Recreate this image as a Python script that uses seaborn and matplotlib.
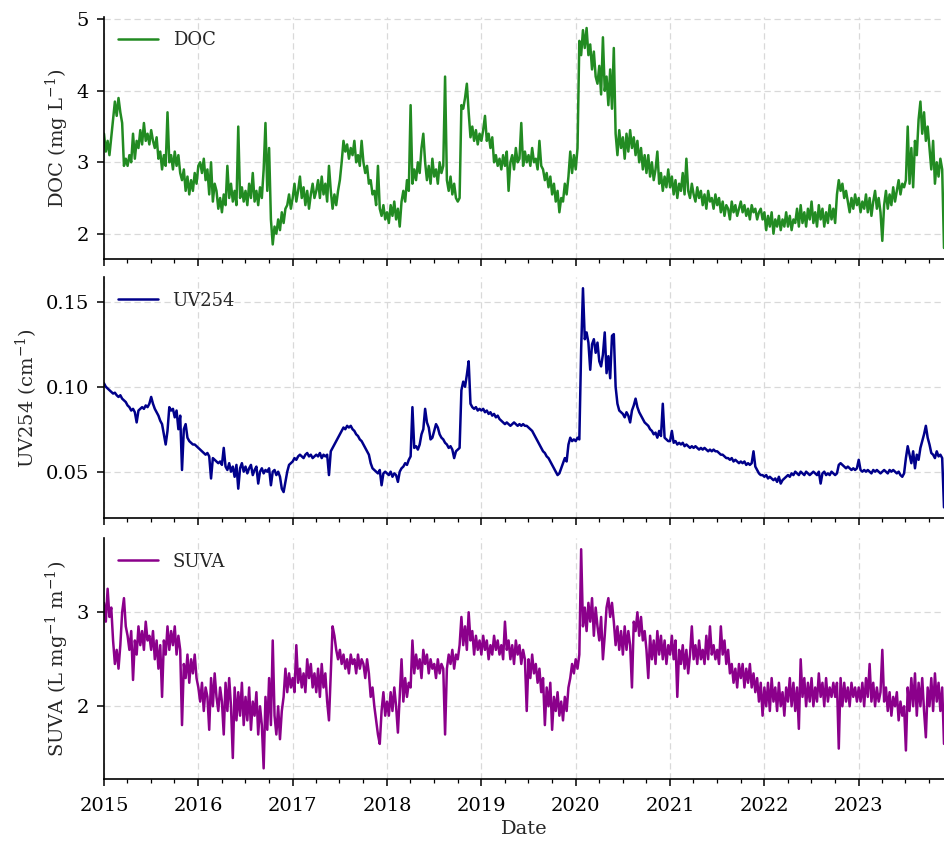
import matplotlib
matplotlib.use("Agg")
import matplotlib.pyplot as plt
import matplotlib.dates as mdates
from matplotlib.ticker import MultipleLocator
import pandas as pd
import seaborn as sns

# Weekly water-quality record, Jan 2015 - Nov 2023 (one row = one quarter)
doc = [
    3.4, 3.15, 3.3, 3.1, 3.35, 3.6, 3.85, 3.65, 3.9, 3.7, 3.55, 2.95, 3.05,
    2.95, 3.1, 3.0, 3.4, 3.05, 3.3, 3.2, 3.45, 3.25, 3.55, 3.3, 3.4, 3.25,
    3.45, 3.3, 3.2, 3.35, 3.05, 3.15, 2.9, 3.1, 2.95, 3.7, 3.0, 3.1, 2.9,
    3.15, 2.95, 3.1, 2.85, 2.75, 2.9, 2.6, 2.8, 2.55, 2.75, 2.6, 2.85, 2.7,
    2.95, 3.0, 2.85, 3.05, 2.75, 2.9, 2.55, 3.0, 2.45, 2.7, 2.6, 2.35, 2.5,
    2.3, 2.55, 2.4, 2.95, 2.5, 2.7, 2.45, 2.6, 2.4, 3.5, 2.5, 2.65, 2.45,
    2.6, 2.4, 2.7, 2.5, 2.85, 2.45, 2.6, 2.4, 2.65, 2.5, 2.9, 3.55, 2.6,
    3.2, 2.2, 1.85, 2.1, 2.0, 2.2, 2.05, 2.3, 2.15, 2.35, 2.4, 2.55, 2.35,
    2.5, 2.7, 2.45, 2.6, 2.8, 2.5, 2.65, 2.4, 2.6, 2.35, 2.55, 2.7, 2.5,
    2.6, 2.75, 2.5, 2.8, 2.55, 2.7, 2.45, 2.95, 2.6, 2.35, 2.55, 2.4, 2.6,
    2.75, 3.0, 3.3, 3.15, 3.25, 3.05, 3.2, 3.1, 3.3, 3.0, 3.1, 2.95, 3.3,
    3.0, 2.85, 2.95, 2.7, 2.75, 2.55, 2.6, 2.4, 2.95, 2.35, 2.25, 2.4, 2.2,
    2.3, 2.15, 2.4, 2.25, 2.45, 2.2, 2.35, 2.1, 2.45, 2.6, 2.45, 2.75, 2.6,
    3.8, 2.7, 2.9, 2.75, 3.0, 2.85, 3.2, 3.4, 3.0, 2.75, 2.95, 2.7, 3.05,
    2.8, 2.9, 2.7, 3.0, 2.85, 2.95, 4.2, 2.75, 2.6, 2.8, 2.55, 2.7, 2.5,
    2.45, 2.5, 3.8, 3.75, 3.9, 4.1, 3.7, 3.35, 3.5, 3.3, 3.45, 3.25, 3.4,
    3.3, 3.45, 3.65, 3.3, 3.4, 3.2, 3.35, 3.0, 3.1, 2.95, 3.05, 2.9, 3.1,
    2.95, 3.15, 2.6, 3.0, 3.1, 2.9, 3.2, 3.0, 3.05, 3.55, 2.95, 3.15, 3.0,
    3.1, 2.95, 3.2, 3.0, 3.05, 2.9, 3.3, 2.95, 2.9, 2.75, 2.85, 2.65, 2.8,
    2.55, 2.7, 2.45, 2.6, 2.3, 2.5, 2.45, 2.7, 2.55, 2.8, 3.15, 2.85, 3.1,
    2.9, 3.2, 4.7, 4.5, 4.85, 4.6, 4.88, 4.5, 4.65, 4.3, 4.55, 4.2, 4.1,
    4.35, 3.95, 4.75, 4.0, 4.2, 3.8, 4.3, 3.75, 4.6, 3.4, 3.1, 3.45, 3.2,
    3.35, 3.05, 3.4, 3.15, 3.45, 3.2, 3.35, 3.1, 3.3, 3.0, 3.2, 2.9, 3.1,
    2.85, 3.1, 2.8, 3.0, 2.75, 2.9, 3.15, 2.7, 2.85, 2.6, 2.8, 2.65, 2.9,
    2.65, 2.8, 2.55, 2.75, 2.5, 2.7, 2.6, 2.85, 2.55, 3.05, 2.6, 2.5, 2.7,
    2.55, 2.45, 2.65, 2.5, 2.6, 2.4, 2.55, 2.35, 2.6, 2.45, 2.5, 2.35, 2.55,
    2.4, 2.5, 2.3, 2.45, 2.25, 2.4, 2.35, 2.2, 2.45, 2.3, 2.4, 2.25, 2.35,
    2.45, 2.3, 2.4, 2.25, 2.35, 2.2, 2.4, 2.3, 2.35, 2.2, 2.3, 2.35, 2.2,
    2.3, 2.05, 2.25, 2.1, 2.3, 2.0, 2.2, 2.1, 2.25, 2.05, 2.2, 2.1, 2.3,
    2.1, 2.25, 2.05, 2.2, 2.15, 2.35, 2.1, 2.4, 2.15, 2.3, 2.1, 2.35, 2.2,
    2.45, 2.15, 2.3, 2.1, 2.4, 2.2, 2.35, 2.1, 2.3, 2.15, 2.4, 2.2, 2.35,
    2.15, 2.55, 2.75, 2.6, 2.7, 2.5, 2.6, 2.45, 2.3, 2.5, 2.35, 2.55, 2.4,
    2.5, 2.3, 2.45, 2.35, 2.55, 2.3, 2.5, 2.25, 2.45, 2.6, 2.35, 2.5, 2.3,
    1.9, 2.4, 2.6, 2.35, 2.55, 2.4, 2.65, 2.45, 2.6, 2.75, 2.55, 2.7, 2.65,
    2.75, 3.5, 2.7, 3.2, 2.65, 3.3, 3.1, 3.6, 3.85, 3.4, 3.7, 3.3, 3.5,
    3.2, 2.9, 3.3, 2.7, 3.0, 2.8, 3.05, 2.9, 1.8,
]

uv254 = [
    0.102, 0.100, 0.099, 0.098, 0.097, 0.096, 0.0965, 0.095, 0.094, 0.095, 0.093, 0.092, 0.091,
    0.089, 0.088, 0.086, 0.087, 0.085, 0.079, 0.086, 0.087, 0.088, 0.087, 0.089, 0.088, 0.090,
    0.094, 0.090, 0.087, 0.085, 0.083, 0.080, 0.078, 0.072, 0.066, 0.074, 0.088, 0.086, 0.087,
    0.082, 0.086, 0.075, 0.083, 0.051, 0.075, 0.078, 0.070, 0.068, 0.067, 0.066, 0.066, 0.065,
    0.064, 0.063, 0.062, 0.061, 0.060, 0.061, 0.059, 0.046, 0.058, 0.057, 0.056, 0.055, 0.056,
    0.054, 0.064, 0.053, 0.051, 0.055, 0.050, 0.053, 0.047, 0.054, 0.040, 0.052, 0.055, 0.050,
    0.053, 0.049, 0.052, 0.054, 0.048, 0.051, 0.053, 0.043, 0.050, 0.052, 0.049, 0.051, 0.050,
    0.052, 0.042, 0.050, 0.051, 0.048, 0.050, 0.047, 0.040, 0.038, 0.044, 0.050, 0.054, 0.055,
    0.056, 0.058, 0.057, 0.059, 0.060, 0.059, 0.058, 0.060, 0.061, 0.059, 0.060, 0.058, 0.059,
    0.060, 0.059, 0.061, 0.058, 0.060, 0.059, 0.060, 0.048, 0.062, 0.064, 0.066, 0.068, 0.070,
    0.072, 0.074, 0.076, 0.075, 0.077, 0.076, 0.077, 0.075, 0.074, 0.072, 0.071, 0.069, 0.068,
    0.066, 0.064, 0.062, 0.060, 0.055, 0.052, 0.051, 0.050, 0.049, 0.051, 0.042, 0.049, 0.050,
    0.049, 0.048, 0.050, 0.047, 0.049, 0.048, 0.044, 0.050, 0.052, 0.053, 0.055, 0.054, 0.057,
    0.059, 0.088, 0.064, 0.065, 0.063, 0.066, 0.072, 0.075, 0.087, 0.079, 0.076, 0.069, 0.070,
    0.074, 0.078, 0.076, 0.072, 0.070, 0.069, 0.067, 0.066, 0.064, 0.065, 0.063, 0.058, 0.062,
    0.063, 0.064, 0.098, 0.103, 0.100, 0.107, 0.115, 0.090, 0.088, 0.087, 0.088, 0.086, 0.087,
    0.086, 0.087, 0.085, 0.086, 0.084, 0.085, 0.083, 0.084, 0.082, 0.083, 0.081, 0.080, 0.079,
    0.078, 0.079, 0.078, 0.077, 0.078, 0.079, 0.078, 0.077, 0.078, 0.077, 0.078, 0.077, 0.077,
    0.076, 0.075, 0.074, 0.072, 0.070, 0.068, 0.066, 0.064, 0.062, 0.061, 0.059, 0.058, 0.056,
    0.054, 0.052, 0.050, 0.048, 0.049, 0.052, 0.055, 0.058, 0.056, 0.066, 0.070, 0.068, 0.069,
    0.068, 0.070, 0.069, 0.122, 0.158, 0.128, 0.132, 0.126, 0.110, 0.125, 0.128, 0.120, 0.126,
    0.115, 0.112, 0.119, 0.132, 0.108, 0.118, 0.105, 0.130, 0.131, 0.100, 0.090, 0.086, 0.085,
    0.084, 0.082, 0.085, 0.083, 0.079, 0.086, 0.089, 0.093, 0.088, 0.085, 0.083, 0.081, 0.079,
    0.078, 0.077, 0.075, 0.074, 0.072, 0.073, 0.070, 0.074, 0.071, 0.090, 0.070, 0.069, 0.068,
    0.068, 0.074, 0.067, 0.068, 0.066, 0.067, 0.066, 0.067, 0.065, 0.066, 0.065, 0.064, 0.065,
    0.064, 0.065, 0.064, 0.063, 0.064, 0.063, 0.064, 0.063, 0.062, 0.063, 0.062, 0.063, 0.062,
    0.062, 0.061, 0.060, 0.060, 0.059, 0.058, 0.058, 0.057, 0.058, 0.056, 0.057, 0.056, 0.055,
    0.056, 0.055, 0.056, 0.054, 0.055, 0.054, 0.055, 0.062, 0.053, 0.051, 0.049, 0.048, 0.048,
    0.047, 0.048, 0.046, 0.047, 0.046, 0.045, 0.046, 0.044, 0.047, 0.043, 0.045, 0.046, 0.047,
    0.048, 0.047, 0.049, 0.048, 0.050, 0.049, 0.048, 0.050, 0.049, 0.048, 0.050, 0.049, 0.048,
    0.049, 0.050, 0.049, 0.048, 0.050, 0.043, 0.049, 0.050, 0.048, 0.049, 0.048, 0.050, 0.049,
    0.048, 0.049, 0.054, 0.055, 0.054, 0.053, 0.052, 0.053, 0.052, 0.051, 0.052, 0.051, 0.052,
    0.057, 0.051, 0.050, 0.051, 0.050, 0.051, 0.050, 0.049, 0.051, 0.050, 0.051, 0.050, 0.049,
    0.050, 0.051, 0.050, 0.049, 0.051, 0.050, 0.051, 0.050, 0.049, 0.050, 0.048, 0.047, 0.049,
    0.058, 0.065, 0.060, 0.055, 0.062, 0.052, 0.060, 0.057, 0.064, 0.068, 0.072, 0.077, 0.070,
    0.066, 0.061, 0.060, 0.058, 0.062, 0.059, 0.060, 0.058, 0.029,
]

suva = [
    3.1, 2.9, 3.25, 2.95, 3.05, 2.7, 2.45, 2.6, 2.4, 2.65, 3.0, 3.15, 2.85,
    2.75, 2.6, 2.8, 2.28, 2.7, 2.55, 2.85, 2.65, 2.8, 2.6, 2.9, 2.7, 2.75,
    2.6, 2.8, 2.5, 2.7, 2.4, 2.65, 2.1, 2.7, 2.55, 2.85, 2.6, 2.8, 2.65,
    2.85, 2.55, 2.75, 2.6, 1.8, 2.45, 2.3, 2.55, 2.25, 2.5, 2.35, 2.55, 2.3,
    2.2, 2.05, 2.25, 1.95, 2.2, 2.1, 1.75, 2.3, 2.0, 2.35, 2.1, 1.95, 2.2,
    2.05, 1.7, 2.25, 1.95, 2.3, 2.0, 1.45, 2.2, 1.85, 2.15, 1.9, 2.25, 1.8,
    2.1, 1.85, 2.2, 1.75, 2.05, 1.9, 2.15, 1.7, 2.0, 1.8, 1.34, 2.1, 1.75,
    2.3, 1.8, 2.7, 1.9, 1.7, 2.0, 1.65, 1.95, 2.1, 2.4, 2.15, 2.35, 2.2,
    2.3, 2.15, 2.65, 2.25, 2.4, 2.2, 2.35, 2.15, 2.5, 2.3, 2.45, 2.2, 2.35,
    2.15, 2.4, 2.1, 2.45, 2.2, 2.35, 2.05, 1.85, 2.35, 2.85, 2.75, 2.6, 2.5,
    2.6, 2.45, 2.55, 2.4, 2.5, 2.35, 2.55, 2.45, 2.5, 2.35, 2.55, 2.4, 2.5,
    2.45, 2.3, 2.5, 2.35, 2.1, 2.2, 2.0, 1.85, 1.7, 1.6, 1.95, 2.15, 1.9,
    2.05, 1.9, 2.15, 1.95, 2.2, 2.0, 1.72, 2.1, 2.5, 2.05, 2.3, 2.1, 2.25,
    2.2, 2.7, 2.35, 2.55, 2.4, 2.5, 2.3, 2.6, 2.45, 2.55, 2.35, 2.5, 2.4,
    2.45, 2.3, 2.5, 2.35, 2.45, 2.4, 1.7, 2.4, 2.55, 2.45, 2.6, 2.4, 2.55,
    2.5, 2.65, 2.95, 2.65, 2.85, 2.6, 3.0, 2.7, 2.8, 2.55, 2.75, 2.6, 2.7,
    2.55, 2.75, 2.6, 2.7, 2.5, 2.65, 2.55, 2.75, 2.6, 2.7, 2.55, 2.65, 2.5,
    2.9, 2.6, 2.7, 2.5, 2.65, 2.45, 2.7, 2.55, 2.65, 2.45, 2.6, 2.5, 1.95,
    2.5, 2.3, 2.55, 2.35, 2.45, 2.25, 2.4, 2.15, 2.3, 1.8, 2.2, 2.0, 2.25,
    1.75, 2.1, 1.95, 2.15, 1.9, 2.05, 1.85, 2.1, 1.95, 2.2, 2.3, 2.45, 2.35,
    2.5, 2.4, 2.55, 3.67, 2.85, 3.05, 2.8, 3.1, 2.9, 3.15, 2.75, 3.05, 2.85,
    2.7, 2.95, 2.5, 2.75, 3.05, 3.15, 2.95, 3.1, 2.9, 2.65, 2.85, 2.6, 2.8,
    2.55, 2.85, 2.6, 2.8, 2.65, 2.2, 2.9, 2.8, 3.0, 2.75, 2.95, 2.7, 2.8,
    2.6, 2.3, 2.75, 2.5, 2.7, 2.45, 2.8, 2.55, 2.75, 2.5, 2.7, 2.45, 2.65,
    2.55, 2.75, 2.5, 2.7, 2.1, 2.6, 2.45, 2.65, 2.4, 2.6, 2.35, 2.55, 2.85,
    2.5, 2.65, 2.45, 2.7, 2.5, 2.6, 2.45, 2.75, 2.5, 2.85, 2.55, 2.65, 2.5,
    2.6, 2.45, 2.85, 2.55, 2.7, 2.45, 2.6, 2.35, 2.45, 2.25, 2.4, 2.2, 2.45,
    2.3, 2.45, 2.2, 2.4, 2.25, 2.45, 2.2, 2.35, 2.15, 2.3, 2.05, 2.25, 1.9,
    2.2, 2.0, 2.25, 1.95, 2.3, 2.05, 2.2, 1.95, 2.25, 2.0, 2.15, 1.9, 2.2,
    2.05, 2.3, 2.0, 2.25, 1.95, 2.2, 1.76, 2.5, 2.1, 2.3, 2.0, 2.25, 2.05,
    2.3, 2.0, 2.2, 2.05, 2.35, 2.1, 2.25, 2.0, 2.3, 2.05, 2.2, 2.1, 2.25,
    2.1, 2.25, 1.55, 2.3, 2.0, 2.25, 2.05, 2.2, 2.0, 2.25, 2.1, 2.2, 2.05,
    2.2, 2.05, 2.25, 2.0, 2.3, 2.1, 2.45, 2.05, 2.25, 2.0, 2.2, 2.05, 2.15,
    2.6, 2.05, 2.2, 1.95, 2.15, 1.9, 2.1, 2.0, 2.15, 1.85, 2.05, 1.9, 2.0,
    1.53, 2.2, 1.95, 2.3, 2.0, 2.35, 1.9, 2.25, 2.0, 2.3, 1.95, 1.67, 2.2,
    2.0, 2.3, 1.95, 2.35, 2.05, 2.25, 1.95, 2.2, 1.6,
]

series_names = ["DOC", "UV254", "SUVA"]
series_colors = ["forestgreen", "darkblue", "darkmagenta"]
y_labels = [r"DOC (mg L$^{-1}$)", r"UV254 (cm$^{-1}$)", r"SUVA (L mg$^{-1}$ m$^{-1}$)"]
y_steps = [1.0, 0.05, 1.0]

dates = pd.date_range("2015-01-01", "2023-11-28", periods=len(doc))

sns.set_theme(style="ticks")
plt.rcParams["font.family"] = ["DejaVu Serif"]
plt.rcParams["mathtext.fontset"] = "dejavuserif"
plt.rcParams["font.size"] = 14

fig = plt.figure(figsize=(9.44, 8.41), dpi=100)
W, H = 944, 841
panel_px = [(17, 259), (277.3, 518.3), (538.3, 779.3)]
left = 104 / W
axes = []
for top, bottom in panel_px:
    axes.append(fig.add_axes([left, 1 - bottom / H, 1 - left, (bottom - top) / H]))

for ax, values, name, color, ylab, step in zip(
    axes, [doc, uv254, suva], series_names, series_colors, y_labels, y_steps
):
    frame = pd.DataFrame({"Date": dates, "value": values})
    sns.lineplot(data=frame, x="Date", y="value", ax=ax, color=color,
                 linewidth=1.8, label=name)
    ax.set_xlim(dates[0], dates[-1])
    ax.yaxis.set_major_locator(MultipleLocator(step))
    ax.xaxis.set_major_locator(mdates.YearLocator())
    ax.xaxis.set_minor_locator(mdates.MonthLocator(bymonth=[1, 4, 7, 10]))
    ax.xaxis.set_major_formatter(mdates.DateFormatter("%Y"))
    ax.grid(True, which="major", linestyle=(0, (5, 3)), color="#d9d9d9", linewidth=0.9)
    ax.set_axisbelow(True)
    sns.despine(ax=ax)
    for s in ("left", "bottom"):
        ax.spines[s].set_linewidth(1.2)
        ax.spines[s].set_color("black")
    ax.tick_params(axis="both", which="major", length=5, width=1.1, labelsize=14,
                   color="black", labelcolor="black")
    ax.tick_params(axis="x", which="major", pad=7.5)
    ax.tick_params(axis="y", which="major", pad=6)
    ax.tick_params(axis="x", which="minor", length=3, width=0.9, color="black")
    ax.set_ylabel(ylab, fontsize=14)
    ax.set_xlabel("")
    ax.legend(loc="upper left", frameon=False, fontsize=13,
              handlelength=2.2, borderaxespad=0.4)

for ax in axes[:-1]:
    ax.tick_params(axis="x", labelbottom=False)
axes[-1].set_xlabel("Date", fontsize=14)

fig.align_ylabels(axes)
fig.savefig("out.png", dpi=100)
